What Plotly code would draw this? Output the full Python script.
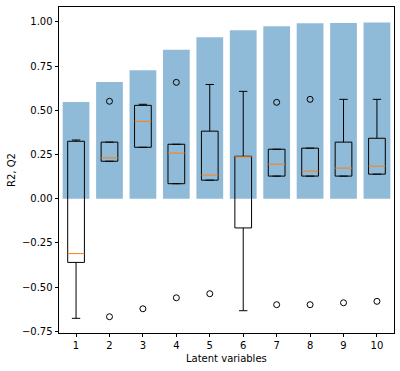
import plotly.graph_objects as go

# Data
latent = [1, 2, 3, 4, 5, 6, 7, 8, 9, 10]
r2 = [0.547, 0.660, 0.727, 0.843, 0.913, 0.952, 0.975, 0.992, 0.993, 0.997]
q2_q1 = [-0.36, 0.212, 0.291, 0.085, 0.105, -0.165, 0.128, 0.128, 0.128, 0.139]
q2_med = [-0.31, 0.231, 0.438, 0.258, 0.134, 0.237, 0.195, 0.156, 0.173, 0.184]
q2_q3 = [0.325, 0.320, 0.528, 0.308, 0.382, 0.240, 0.280, 0.286, 0.320, 0.342]
q2_whislo = [-0.676, 0.212, 0.291, 0.085, 0.105, -0.633, 0.128, 0.128, 0.128, 0.139]
q2_whishi = [0.332, 0.320, 0.534, 0.308, 0.646, 0.607, 0.280, 0.286, 0.562, 0.562]
flier_x = [2, 2, 3, 4, 4, 5, 7, 7, 8, 8, 9, 10]
flier_y = [0.551, -0.667, -0.622, 0.658, -0.560, -0.537, 0.545, -0.599, 0.562, -0.599, -0.588, -0.580]

BOX_HALF = 0.25
CAP_HALF = 0.125

fig = go.Figure()
fig.add_trace(go.Bar(x=latent, y=r2, width=0.8,
                     marker=dict(color="rgba(31,119,180,0.5)", line=dict(width=0)),
                     hoverinfo="skip"))

bx, by, wx, wy, cx, cy, mx, my = [], [], [], [], [], [], [], []
for i, p in enumerate(latent):
    l, r = p - BOX_HALF, p + BOX_HALF
    bx += [l, r, r, l, l, None]
    by += [q2_q1[i], q2_q1[i], q2_q3[i], q2_q3[i], q2_q1[i], None]
    wx += [p, p, None, p, p, None]
    wy += [q2_q1[i], q2_whislo[i], None, q2_q3[i], q2_whishi[i], None]
    cx += [p - CAP_HALF, p + CAP_HALF, None, p - CAP_HALF, p + CAP_HALF, None]
    cy += [q2_whislo[i], q2_whislo[i], None, q2_whishi[i], q2_whishi[i], None]
    mx += [l, r, None]
    my += [q2_med[i], q2_med[i], None]

line = dict(color="black", width=1)
fig.add_trace(go.Scatter(x=wx, y=wy, mode="lines", line=line, hoverinfo="skip"))
fig.add_trace(go.Scatter(x=cx, y=cy, mode="lines", line=line, hoverinfo="skip"))
fig.add_trace(go.Scatter(x=bx, y=by, mode="lines", line=line, hoverinfo="skip"))
fig.add_trace(go.Scatter(x=mx, y=my, mode="lines", line=dict(color="#ff7f0e", width=1), hoverinfo="skip"))
fig.add_trace(go.Scatter(x=flier_x, y=flier_y, mode="markers",
                         marker=dict(symbol="circle-open", size=6, color="black", line=dict(width=1)),
                         hoverinfo="skip"))

axis_common = dict(showline=True, linecolor="black", linewidth=0.8, mirror=True,
                   ticks="outside", ticklen=3.5, tickwidth=0.8, tickcolor="black",
                   showgrid=False, zeroline=False,
                   tickfont=dict(family="DejaVu Sans", size=10, color="black"))

fig.update_layout(
    width=400, height=371,
    margin=dict(l=59, r=6, t=7, b=38),
    paper_bgcolor="white", plot_bgcolor="white",
    showlegend=False,
    font=dict(family="DejaVu Sans", size=10, color="black"),
    xaxis=dict(range=[0.49, 10.51], tickvals=latent, **axis_common),
    yaxis=dict(range=[-0.759, 1.084], tickvals=[-0.75, -0.5, -0.25, 0, 0.25, 0.5, 0.75, 1.0],
               tickformat=".2f", **axis_common),
    annotations=[
        dict(text="Latent variables", x=0.5, y=0, xref="paper", yref="paper",
             xanchor="center", yanchor="top", yshift=-18, showarrow=False,
             font=dict(family="DejaVu Sans", size=10, color="black")),
        dict(text="R2, Q2", x=0, y=0.5, xref="paper", yref="paper", textangle=-90,
             xanchor="center", yanchor="middle", xshift=-48, showarrow=False,
             font=dict(family="DejaVu Sans", size=10, color="black")),
    ],
)

fig.write_html("out.html", config={"displayModeBar": False},
               post_script="document.body.style.margin='0';")
